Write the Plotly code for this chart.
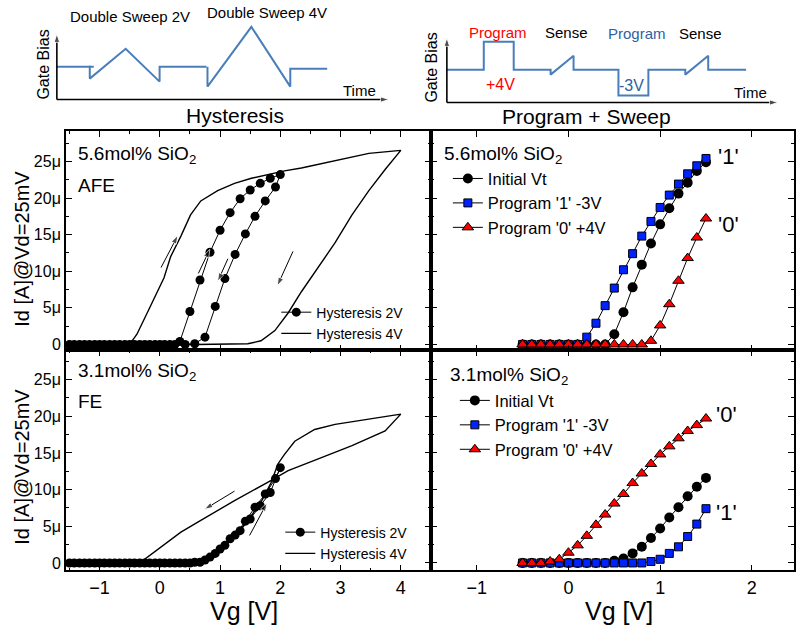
import plotly.graph_objects as go

W, H = 796, 630

# ---------------- data (currents in µA) ----------------
# Top-left: 5.6mol% SiO2 (AFE) hysteresis
tl_2v_V = [-1.5, -1.333, -1.167, -1.0, -0.833, -0.667, -0.5, -0.333, -0.167, 0.0, 0.167,
           0.333, 0.5, 0.667, 0.833, 1.0, 1.167, 1.333, 1.5, 1.667, 1.833, 2.0,
           1.92, 1.75, 1.58, 1.42, 1.25, 1.08, 0.92, 0.75, 0.58, 0.42, 0.25, 0.08,
           -0.08, -0.25, -0.42, -0.58, -0.75, -0.92, -1.08, -1.25, -1.42]
tl_2v_I = [0, 0, 0, 0, 0, 0, 0, 0, 0, 0, 0,
           0.4, 4.5, 8.8, 12.6, 15.6, 18.0, 19.9, 21.1, 22.0, 22.7, 23.2,
           21.5, 19.6, 17.5, 15.1, 12.3, 9.0, 5.2, 1.0, 0.1, 0, 0, 0,
           0, 0, 0, 0, 0, 0, 0, 0, 0]
tl_4v_V = [-1.5, -0.53, -0.45, -0.38, -0.21, -0.04, 0.07, 0.18, 0.35, 0.51, 0.68, 0.96,
           1.24, 1.52, 2.07, 2.35, 2.91, 3.47, 4.0,
           3.74, 3.47, 3.19, 2.91, 2.63, 2.35, 2.13, 1.91, 1.68, 1.46, 0.6, -1.5]
tl_4v_I = [0, 0, 0.6, 1.4, 4.3, 7.2, 9.1, 12.0, 14.8, 17.7, 19.6, 21.0,
           22.0, 22.7, 23.7, 24.1, 25.1, 26.1, 26.5,
           23.9, 21.0, 17.7, 13.9, 10.5, 7.2, 4.3, 1.9, 0.5, 0.1, 0, 0]

# Bottom-left: 3.1mol% SiO2 (FE) hysteresis
bl_2v_V = [-1.5, -1.333, -1.167, -1.0, -0.833, -0.667, -0.5, -0.333, -0.167, 0.0, 0.167, 0.333,
           0.5, 0.667, 0.833, 1.0, 1.167, 1.333, 1.5, 1.667, 1.833, 2.0,
           1.92, 1.75, 1.58, 1.42, 1.25, 1.08, 0.92, 0.75, 0.58, 0.42, 0.25, 0.08,
           -0.08, -0.25, -0.42, -0.58, -0.75, -0.92, -1.08, -1.25, -1.42]
bl_2v_I = [0, 0, 0, 0, 0, 0, 0, 0, 0, 0, 0, 0,
           0.0, 0.1, 0.8, 1.9, 3.3, 4.4, 6.0, 7.8, 9.6, 13.0,
           11.5, 9.4, 7.6, 5.7, 3.8, 2.4, 1.3, 0.4, 0.1, 0, 0, 0,
           0, 0, 0, 0, 0, 0, 0, 0, 0]
bl_4v_V = [-1.5, 0.55, 0.7, 0.9, 1.1, 1.3, 1.5, 1.7, 1.85, 1.96, 2.07, 2.24, 2.57, 2.91,
           3.47, 4.0, 3.74, 3.19, 2.63, 2.13, 1.79, 1.24, 0.68, 0.35, -0.27, -1.5]
bl_4v_I = [0, 0, 0.1, 0.8, 2.4, 4.2, 6.2, 8.6, 11.0, 13.5, 14.8, 16.6, 18.2, 18.9,
           19.6, 20.3, 18.0, 16.0, 14.2, 12.6, 11.0, 8.5, 5.8, 4.2, 0.4, 0]

# Right panels: program + sweep, Vg = -0.5 ... 1.5 V step 0.1
ps_V = [-0.5, -0.4, -0.3, -0.2, -0.1, 0.0, 0.1, 0.2, 0.3, 0.4, 0.5, 0.6, 0.7,
        0.8, 0.9, 1.0, 1.1, 1.2, 1.3, 1.4, 1.5]
tr_init_I = [0, 0, 0, 0, 0, 0, 0, 0, 0, 0, 1.4, 4.4, 7.8, 10.9, 13.8, 16.4, 18.6, 20.6, 22.1, 23.7, 24.9]
tr_prog1_I = [0, 0, 0, 0, 0, 0, 0, 1.0, 2.9, 5.3, 7.7, 10.2, 12.4, 14.8, 16.8, 18.7, 20.4, 21.9, 23.3, 24.4, 25.4]
tr_prog0_I = [0, 0, 0, 0, 0, 0, 0, 0, 0, 0, 0, 0, 0, 0, 0.5, 2.6, 5.5, 8.7, 11.8, 14.6, 17.2]
br_init_I = [0, 0, 0, 0, 0, 0, 0, 0, 0, 0, 0.3, 0.6, 1.3, 2.2, 3.4, 4.7, 6.2, 7.6, 9.1, 10.4, 11.6]
br_prog1_I = [0, 0, 0, 0, 0, 0, 0, 0, 0, 0, 0, 0, 0, 0, 0.2, 0.5, 1.3, 2.2, 3.6, 5.3, 7.4]
br_prog0_I = [0, 0, 0, 0.2, 0.5, 1.4, 2.4, 3.7, 5.2, 6.6, 8.1, 9.4, 10.9, 12.2, 13.5, 14.8, 15.9, 17.0, 18.0, 18.8, 19.7]

y_tickvals = [0, 5, 10, 15, 20, 25]
y_ticktext = ["0", "5\u03bc", "10\u03bc", "15\u03bc", "20\u03bc", "25\u03bc"]
xl_tickvals = [-1, 0, 1, 2, 3, 4]
xr_tickvals = [-1, 0, 1, 2]

# Sweep-direction arrows: (panel, tail V, tail I, head V, head I)
dir_arrows = [("tl", 0.02, 10.5, 0.30, 14.9),
              ("tl", 0.64, 9.7, 0.83, 13.0),
              ("tl", 1.13, 11.7, 0.96, 8.6),
              ("tl", 2.21, 12.7, 1.95, 8.0),
              ("bl", 1.24, 9.8, 0.74, 7.3),
              ("bl", 1.49, 3.75, 1.78, 8.2)]

# Schematic waveforms (pixel coordinates of the drawing canvas)
sch_hyst_t = [57, 94, None, 90, 90, 126, 160, 160, 207, None, 208, 208, 252, 291, 291, 328]
sch_hyst_v = [67, 67, None, 66, 79, 49, 82, 67, 67, None, 67, 87, 27, 87, 69, 69]
sch_prog_t = [448, 485, 485, 515, 515, 552, 552, 575, 575, 620, 620, 650, 650, 687, 687, 710, 710, 748]
sch_prog_v = [70, 70, 42, 42, 70, 70, 75, 56, 70, 70, 96, 96, 70, 70, 75, 56, 70, 70]
# schematic axes: (tail x, tail y, head x, head y)
sch_axes = [(57, 100, 57, 34), (57, 100, 390, 100), (448, 103, 448, 38), (448, 103, 780, 103)]

FONT = "Arial, Liberation Sans, sans-serif"
BLUE_S = "#4a7ebb"

fig = go.Figure()

# ---- top-left
fig.add_trace(go.Scatter(x=tl_2v_V, y=tl_2v_I, mode="lines+markers", name="Hysteresis 2V",
                         line=dict(color="black", width=1), marker=dict(symbol="circle", size=9, color="black"),
                         xaxis="x", yaxis="y", legend="legend"))
fig.add_trace(go.Scatter(x=tl_4v_V, y=tl_4v_I, mode="lines", name="Hysteresis 4V",
                         line=dict(color="black", width=1.4), xaxis="x", yaxis="y", legend="legend"))
# ---- bottom-left
fig.add_trace(go.Scatter(x=bl_2v_V, y=bl_2v_I, mode="lines+markers", name="Hysteresis 2V",
                         line=dict(color="black", width=1), marker=dict(symbol="circle", size=9, color="black"),
                         xaxis="x3", yaxis="y3", legend="legend2"))
fig.add_trace(go.Scatter(x=bl_4v_V, y=bl_4v_I, mode="lines", name="Hysteresis 4V",
                         line=dict(color="black", width=1.4), xaxis="x3", yaxis="y3", legend="legend2"))

def ps_traces(xa, ya, leg, i_init, i_p1, i_p0):
    fig.add_trace(go.Scatter(x=ps_V, y=i_init, mode="lines+markers", name="Initial Vt",
                             line=dict(color="black", width=1),
                             marker=dict(symbol="circle", size=10, color="black"),
                             xaxis=xa, yaxis=ya, legend=leg))
    fig.add_trace(go.Scatter(x=ps_V, y=i_p1, mode="lines+markers", name="Program '1' -3V",
                             line=dict(color="black", width=1),
                             marker=dict(symbol="square", size=8, color="#0022ff", line=dict(color="black", width=1)),
                             xaxis=xa, yaxis=ya, legend=leg))
    fig.add_trace(go.Scatter(x=ps_V, y=i_p0, mode="lines+markers", name="Program '0' +4V",
                             line=dict(color="black", width=1),
                             marker=dict(symbol="triangle-up", size=10, color="#ff0000", line=dict(color="black", width=1)),
                             xaxis=xa, yaxis=ya, legend=leg))

ps_traces("x2", "y2", "legend3", tr_init_I, tr_prog1_I, tr_prog0_I)
ps_traces("x4", "y4", "legend4", br_init_I, br_prog1_I, br_prog0_I)

# ---- direction arrows
for panel, x0, y0, x1, y1 in dir_arrows:
    xa, ya = ("x", "y") if panel == "tl" else ("x3", "y3")
    fig.add_trace(go.Scatter(x=[x0, x1], y=[y0, y1], mode="lines+markers",
                             line=dict(color="black", width=1),
                             marker=dict(symbol="arrow", angleref="previous", size=[0, 9], color="black"),
                             showlegend=False, xaxis=xa, yaxis=ya, hoverinfo="skip"))

# ---- schematic canvas
fig.add_trace(go.Scatter(x=sch_hyst_t, y=sch_hyst_v, mode="lines", line=dict(color=BLUE_S, width=2),
                         showlegend=False, xaxis="x5", yaxis="y5", hoverinfo="skip"))
fig.add_trace(go.Scatter(x=sch_prog_t, y=sch_prog_v, mode="lines", line=dict(color=BLUE_S, width=2),
                         showlegend=False, xaxis="x5", yaxis="y5", hoverinfo="skip"))
for x0, y0, x1, y1 in sch_axes:
    fig.add_trace(go.Scatter(x=[x0, x1], y=[y0, y1], mode="lines+markers",
                             line=dict(color="black", width=1.6),
                             marker=dict(symbol="arrow", angleref="previous", size=[0, 9], color="black"),
                             showlegend=False, xaxis="x5", yaxis="y5", hoverinfo="skip"))

XL = [66 / W, 432 / W]
XR = [432 / W, 1.0]
YT = [1 - 352 / H, 1 - 132 / H]
YB = [1 - 573 / H, 1 - 352 / H]

def xax(domain, rng, tickvals, anchor, labels, minor_dtick):
    d = dict(domain=domain, range=rng, anchor=anchor, tickvals=tickvals,
             showticklabels=labels, showline=True, linecolor="black", linewidth=1.5,
             mirror="allticks", ticks="inside", ticklen=6, tickwidth=1, tickcolor="black",
             showgrid=False, zeroline=False, tickfont=dict(family=FONT, size=18, color="black"))
    if minor_dtick:
        d["minor"] = dict(ticks="inside", ticklen=3, dtick=minor_dtick, tick0=0, tickcolor="black", showgrid=False)
    return d

def yax(domain, rng, anchor, labels):
    return dict(domain=domain, range=rng, anchor=anchor, tickvals=y_tickvals, ticktext=y_ticktext,
                showticklabels=labels, showline=True, linecolor="black", linewidth=1.5,
                mirror="allticks", ticks="inside", ticklen=6, tickwidth=1, tickcolor="black",
                showgrid=False, zeroline=False, tickfont=dict(family=FONT, size=16, color="black"),
                minor=dict(ticks="inside", ticklen=3, dtick=2.5, tick0=0, tickcolor="black", showgrid=False))

YR_T = [-0.8, 29.1]
YR_B = [-1.0, 29.0]
XR_L = [-1.56, 4.5]
XR_R = [-1.5, 2.46]

fig.update_layout(
    width=W, height=H, margin=dict(l=0, r=0, t=0, b=0),
    paper_bgcolor="white", plot_bgcolor="rgba(0,0,0,0)",
    font=dict(family=FONT, color="black"),
    xaxis=xax(XL, XR_L, xl_tickvals, "y", False, 0.5),
    yaxis=yax(YT, YR_T, "x", True),
    xaxis2=xax(XR, XR_R, xr_tickvals, "y2", False, None),
    yaxis2=yax(YT, YR_T, "x2", False),
    xaxis3=xax(XL, XR_L, xl_tickvals, "y3", True, 0.5),
    yaxis3=yax(YB, YR_B, "x3", True),
    xaxis4=xax(XR, XR_R, xr_tickvals, "y4", True, None),
    yaxis4=yax(YB, YR_B, "x4", False),
    xaxis5=dict(domain=[0, 1], range=[0, W], anchor="y5", visible=False, fixedrange=True),
    yaxis5=dict(domain=[0, 1], range=[H, 0], anchor="x5", visible=False, fixedrange=True),
    legend=dict(x=277 / W, y=1 - 298 / H, xanchor="left", yanchor="top", bgcolor="rgba(0,0,0,0)",
                font=dict(family=FONT, size=14), tracegroupgap=0, itemclick=False),
    legend2=dict(x=281 / W, y=1 - 519 / H, xanchor="left", yanchor="top", bgcolor="rgba(0,0,0,0)",
                 font=dict(family=FONT, size=14), tracegroupgap=0, itemclick=False),
    legend3=dict(x=449 / W, y=1 - 162 / H, xanchor="left", yanchor="top", bgcolor="rgba(0,0,0,0)",
                 font=dict(family=FONT, size=16.5), tracegroupgap=0, itemclick=False),
    legend4=dict(x=456 / W, y=1 - 385 / H, xanchor="left", yanchor="top", bgcolor="rgba(0,0,0,0)",
                 font=dict(family=FONT, size=16.5), tracegroupgap=0, itemclick=False),
)

ann = []
def ptext(text, x, y, size, color="black", xanchor="center", yanchor="middle", angle=0):
    ann.append(dict(text=text, x=x / W, y=1 - y / H, xref="paper", yref="paper", showarrow=False,
                    xanchor=xanchor, yanchor=yanchor, textangle=angle,
                    font=dict(family=FONT, size=size, color=color)))

# panel labels
ptext("5.6mol% SiO<sub>2</sub>", 76, 156, 19, xanchor="left")
ptext("AFE", 76, 186, 19, xanchor="left")
ptext("3.1mol% SiO<sub>2</sub>", 76, 374, 19, xanchor="left")
ptext("FE", 76, 403, 19, xanchor="left")
ptext("5.6mol% SiO<sub>2</sub>", 443, 156, 19, xanchor="left")
ptext("3.1mol% SiO<sub>2</sub>", 449, 378, 19, xanchor="left")
# axis titles
ptext("Id [A]@Vd=25mV", 22, 250, 20, angle=-90)
ptext("Id [A]@Vd=25mV", 22, 469, 20, angle=-90)
ptext("Vg [V]", 245, 614, 25)
ptext("Vg [V]", 621, 614, 25)
# schematic texts
ptext("Double Sweep 2V", 130, 17, 15)
ptext("Double Sweep 4V", 268, 13, 15)
ptext("Gate Bias", 44, 65, 16, angle=-90)
ptext("Time", 360, 91, 15)
ptext("Hysteresis", 236, 116, 21)
ptext("Gate Bias", 433, 68, 16, angle=-90)
ptext("Time", 752, 93, 15)
ptext("Program + Sweep", 588, 117, 21)
ptext("Program", 499, 33, 15, color="#ff0000")
ptext("Sense", 568, 33, 15)
ptext("Program", 639, 34, 15, color="#2f5fa0")
ptext("Sense", 702, 34, 15)
ptext("+4V", 502, 85, 16, color="#ff0000")
ptext("-3V", 633, 86, 16, color="#2f5fa0")

# state labels in data coords
for xa, ya, x, y, t in [("x2", "y2", 1.75, 25.7, "'1'"), ("x2", "y2", 1.75, 16.4, "'0'"),
                        ("x4", "y4", 1.72, 20.2, "'0'"), ("x4", "y4", 1.72, 6.9, "'1'")]:
    ann.append(dict(text=t, x=x, y=y, xref=xa, yref=ya, showarrow=False, xanchor="center",
                    yanchor="middle", font=dict(family=FONT, size=22, color="black")))

fig.update_layout(annotations=ann)
fig.write_html("out.html")
